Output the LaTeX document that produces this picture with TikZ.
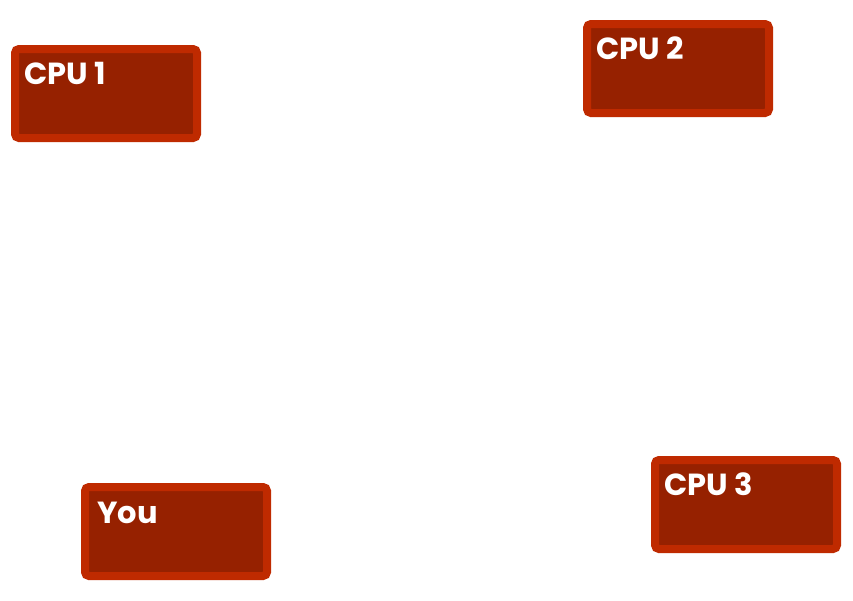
\documentclass[tikz,border=0pt]{standalone}
\usepackage{fontspec}
\setmainfont{Poppins}
\usetikzlibrary{calc}
\definecolor{boxrim}{RGB}{191,42,0}
\definecolor{boxfill}{RGB}{150,33,0}
\tikzset{
  cpubox/.style={draw=boxrim, fill=boxfill, line width=8pt, rounded corners=4pt,
    minimum width=182pt, minimum height=89pt, inner sep=0pt},
  cputext/.style={anchor=base west, inner sep=0pt, text=white, font=\fontsize{30.5}{32}\selectfont\bfseries}
}

\begin{document}
\begin{tikzpicture}[x=1pt, y=-1pt]
    \useasboundingbox (0,0) rectangle (853,600);
    \node[cpubox] at (106, 93.5) (cpu1) {};
    \node[cpubox] at (678, 68.5) (cpu2) {};
    \node[cpubox] at (746, 504.5) (cpu3) {};
    \node[cpubox] at (176, 531.5) (you) {};
    \node[cputext] at ($(cpu1.north west) + (13, 39)$) (cpu1label) {CPU 1};
    \node[cputext] at ($(cpu2.north west) + (13, 39)$) (cpu2label) {CPU 2};
    \node[cputext] at ($(cpu3.north west) + (13, 39)$) (cpu3label) {CPU 3};
    \node[cputext] at ($(you.north west) + (16, 40)$) (youlabel) {You};

\end{tikzpicture}
\end{document}
